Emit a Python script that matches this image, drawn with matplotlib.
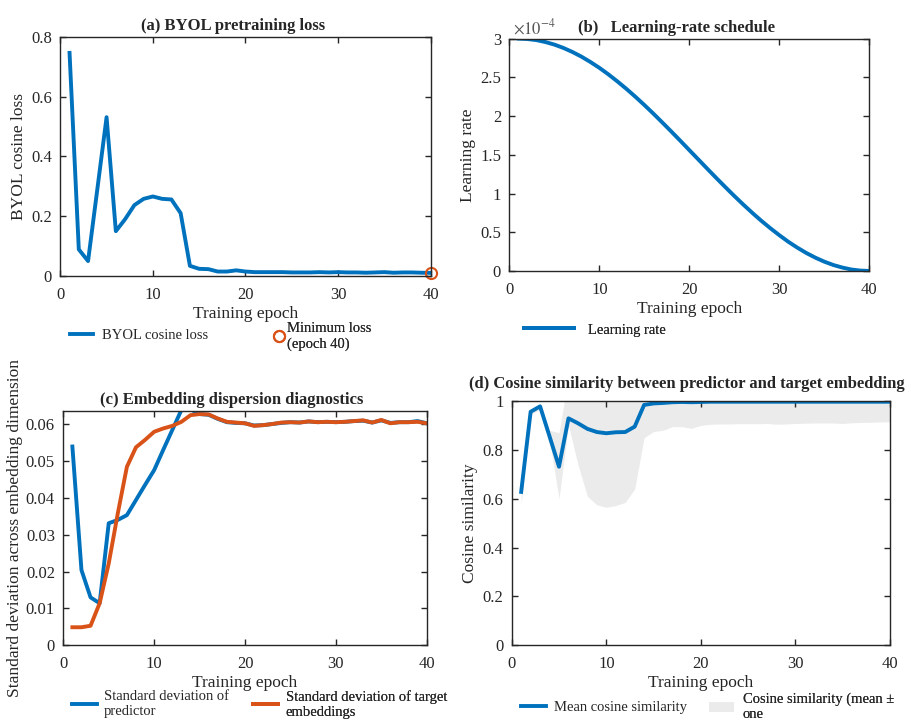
import numpy as np
import matplotlib
matplotlib.use("Agg")
import matplotlib.pyplot as plt
from matplotlib.ticker import FuncFormatter, MultipleLocator
from matplotlib.lines import Line2D
from matplotlib.patches import Patch

plt.rcParams['font.family'] = ['Liberation Serif', 'DejaVu Serif']
plt.rcParams['mathtext.fontset'] = 'stix'
plt.rcParams['font.size'] = 12

# data
epochs = np.arange(1, 41)

byol_loss = [0.746, 0.089, 0.050, 0.290, 0.531, 0.150, 0.190, 0.237, 0.258, 0.266,
             0.258, 0.256, 0.210, 0.034, 0.024, 0.023, 0.015, 0.015, 0.019, 0.015,
             0.013, 0.013, 0.013, 0.013, 0.012, 0.012, 0.012, 0.013, 0.012, 0.013,
             0.012, 0.012, 0.011, 0.012, 0.013, 0.011, 0.012, 0.012, 0.011, 0.0105]

# learning rate, in units of 1e-4
lr_e4 = [3.000, 2.995, 2.981, 2.956, 2.923, 2.880, 2.828, 2.768, 2.699, 2.623,
         2.539, 2.448, 2.352, 2.250, 2.143, 2.032, 1.917, 1.800, 1.681, 1.560,
         1.440, 1.319, 1.200, 1.083, 0.968, 0.857, 0.750, 0.648, 0.552, 0.462,
         0.377, 0.301, 0.232, 0.172, 0.120, 0.077, 0.044, 0.019, 0.005, 0.000]

std_predictor = [0.0539, 0.0204, 0.0130, 0.0114, 0.0331, 0.0340, 0.0353, 0.0394, 0.0435, 0.0475,
                 0.0530, 0.0584, 0.0638, 0.0640, 0.0627, 0.0625, 0.0614, 0.0605, 0.0603, 0.0602,
                 0.0596, 0.0597, 0.0600, 0.0603, 0.0605, 0.0604, 0.0607, 0.0605, 0.0606, 0.0605,
                 0.0606, 0.0608, 0.0609, 0.0604, 0.0610, 0.0603, 0.0605, 0.0605, 0.0608, 0.0602]

std_target = [0.0049, 0.0049, 0.0053, 0.0114, 0.0222, 0.0358, 0.0484, 0.0537, 0.0557, 0.0579,
              0.0588, 0.0595, 0.0606, 0.0624, 0.0627, 0.0626, 0.0615, 0.0606, 0.0604, 0.0602,
              0.0595, 0.0597, 0.0600, 0.0604, 0.0605, 0.0604, 0.0607, 0.0605, 0.0606, 0.0605,
              0.0606, 0.0608, 0.0610, 0.0604, 0.0611, 0.0602, 0.0605, 0.0605, 0.0606, 0.0602]

cos_mean = [0.628, 0.956, 0.978, 0.855, 0.731, 0.929, 0.909, 0.886, 0.873, 0.868,
            0.872, 0.873, 0.895, 0.984, 0.990, 0.992, 0.995, 0.996, 0.995, 0.996,
            0.997, 0.997, 0.997, 0.997, 0.997, 0.997, 0.997, 0.997, 0.997, 0.997,
            0.997, 0.997, 0.997, 0.997, 0.997, 0.997, 0.997, 0.997, 0.997, 0.997]

cos_lower = [0.575, 0.945, 0.965, 0.840, 0.600, 0.900, 0.740, 0.610, 0.575, 0.565,
             0.572, 0.585, 0.640, 0.850, 0.875, 0.880, 0.895, 0.895, 0.888, 0.900,
             0.905, 0.906, 0.906, 0.907, 0.907, 0.907, 0.908, 0.905, 0.906, 0.908,
             0.909, 0.910, 0.910, 0.910, 0.908, 0.911, 0.912, 0.913, 0.914, 0.915]

cos_upper = [0.680, 0.967, 0.990, 0.880, 0.870, 1.100, 1.080, 1.160, 1.170, 1.170,
             1.170, 1.160, 1.150, 1.120, 1.100, 1.100, 1.095, 1.097, 1.100, 1.090,
             1.089, 1.088, 1.088, 1.087, 1.087, 1.087, 1.086, 1.089, 1.088, 1.086,
             1.085, 1.084, 1.084, 1.084, 1.086, 1.083, 1.082, 1.081, 1.080, 1.079]

BLUE = '#0072BD'
ORANGE = '#D95319'
BAND = '#EBEBEB'
AXC = '#262626'
LW = 2.8
TITLE_FS = 12
LABEL_FS = 12.5
LEG_FS = 10.5

fmt = FuncFormatter(lambda v, p: f'{v:g}')


def style(ax):
    for s in ax.spines.values():
        s.set_color(AXC)
        s.set_linewidth(1.0)
    ax.tick_params(direction='in', top=True, right=True, length=4, width=1,
                   colors=AXC, labelsize=12)
    ax.tick_params(axis='x', pad=8)
    ax.tick_params(axis='y', pad=6)
    ax.xaxis.set_major_formatter(fmt)
    ax.yaxis.set_major_formatter(fmt)
    ax.set_xlim(0, 40)
    ax.xaxis.set_major_locator(MultipleLocator(10))
    ax.set_xlabel('Training epoch', fontsize=LABEL_FS, color=AXC, labelpad=2)


def put_legend(ax, handle, label, x, y, hl, pad):
    leg = ax.legend([handle], [label], loc='center left', bbox_to_anchor=(x, y),
                    frameon=False, handlelength=hl, handletextpad=pad,
                    borderpad=0, borderaxespad=0, fontsize=LEG_FS, labelcolor=AXC)
    ax.add_artist(leg)


fig = plt.figure(figsize=(9.12, 7.22), dpi=100)
ax_a = fig.add_axes([0.0661, 0.6177, 0.4061, 0.3314])
ax_b = fig.add_axes([0.5585, 0.6247, 0.3947, 0.3218])
ax_c = fig.add_axes([0.0694, 0.1062, 0.3985, 0.3249])
ax_d = fig.add_axes([0.5611, 0.1062, 0.4148, 0.3384])

# (a) loss
style(ax_a)
ax_a.plot(epochs, byol_loss, color=BLUE, lw=LW)
i_min = int(np.argmin(byol_loss))
ax_a.plot(epochs[i_min], byol_loss[i_min], ls='none', marker='o', mfc='none',
          mec=ORANGE, ms=8, mew=1.5, clip_on=False)
ax_a.set_ylim(0, 0.8)
ax_a.yaxis.set_major_locator(MultipleLocator(0.2))
ax_a.set_ylabel('BYOL cosine loss', fontsize=LABEL_FS, color=AXC, labelpad=3)
ax_a.set_title('(a) BYOL pretraining loss', fontweight='bold', fontsize=TITLE_FS,
               x=0.467, pad=4.5, color=AXC)
put_legend(ax_a, Line2D([], [], color=BLUE, lw=LW), 'BYOL cosine loss',
           0.026, -0.247, 1.6, 0.6)
put_legend(ax_a, Line2D([], [], ls='none', marker='o', mfc='none', mec=ORANGE, ms=8, mew=1.5),
           f'Minimum loss\n(epoch {epochs[i_min]})', 0.574, -0.253, 0.8, 0.15)

# (b) learning rate
style(ax_b)
lr = np.array(lr_e4) * 1e-4
ax_b.plot(epochs, lr, color=BLUE, lw=LW)
ax_b.set_ylim(0, 3e-4)
ax_b.yaxis.set_major_locator(MultipleLocator(0.5e-4))
ax_b.yaxis.set_major_formatter(FuncFormatter(lambda v, p: f'{v * 1e4:g}'))
ax_b.text(0.01, 1.005, r'$\times 10^{-4}$', transform=ax_b.transAxes,
          ha='left', va='bottom', fontsize=12, color='#555555')
ax_b.set_ylabel('Learning rate', fontsize=LABEL_FS, color=AXC, labelpad=3)
ax_b.set_title('(b)   Learning-rate schedule', fontweight='bold', fontsize=TITLE_FS,
               x=0.463, pad=4.5, color=AXC)
put_legend(ax_b, Line2D([], [], color=BLUE, lw=LW), 'Learning rate',
           0.041, -0.254, 3.4, 1.0)

# (c) dispersion
style(ax_c)
ax_c.plot(epochs, std_predictor, color=BLUE, lw=LW)
ax_c.plot(epochs, std_target, color=ORANGE, lw=LW)
ax_c.set_ylim(0, 0.0636)
ax_c.yaxis.set_major_locator(MultipleLocator(0.01))
ax_c.set_ylabel('Standard deviation across embedding dimension', fontsize=LABEL_FS,
                color=AXC, labelpad=2)
ax_c.set_title('(c) Embedding dispersion diagnostics', fontweight='bold', fontsize=TITLE_FS,
               x=0.464, pad=4.5, color=AXC)
put_legend(ax_c, Line2D([], [], color=BLUE, lw=LW), 'Standard deviation of\npredictor',
           0.024, -0.252, 1.7, 0.5)
put_legend(ax_c, Line2D([], [], color=ORANGE, lw=LW), 'Standard deviation of target\nembeddings',
           0.522, -0.252, 1.7, 0.55)

# (d) cosine similarity
style(ax_d)
ax_d.fill_between(epochs, cos_lower, cos_upper, color=BAND, lw=0)
ax_d.plot(epochs, cos_mean, color=BLUE, lw=LW)
ax_d.set_ylim(0, 1)
ax_d.yaxis.set_major_locator(MultipleLocator(0.2))
ax_d.set_ylabel('Cosine similarity', fontsize=LABEL_FS, color=AXC, labelpad=3)
ax_d.set_title('(d) Cosine similarity between predictor and target embedding',
               fontweight='bold', fontsize=TITLE_FS, x=0.463, pad=9, color=AXC)
put_legend(ax_d, Line2D([], [], color=BLUE, lw=LW), 'Mean cosine similarity',
           0.0246, -0.2526, 1.7, 0.55)
put_legend(ax_d, Patch(facecolor=BAND, edgecolor='none'), 'Cosine similarity (mean \u00b1\none',
           0.5216, -0.2526, 1.7, 0.6)

fig.savefig('out.png', dpi=100)
